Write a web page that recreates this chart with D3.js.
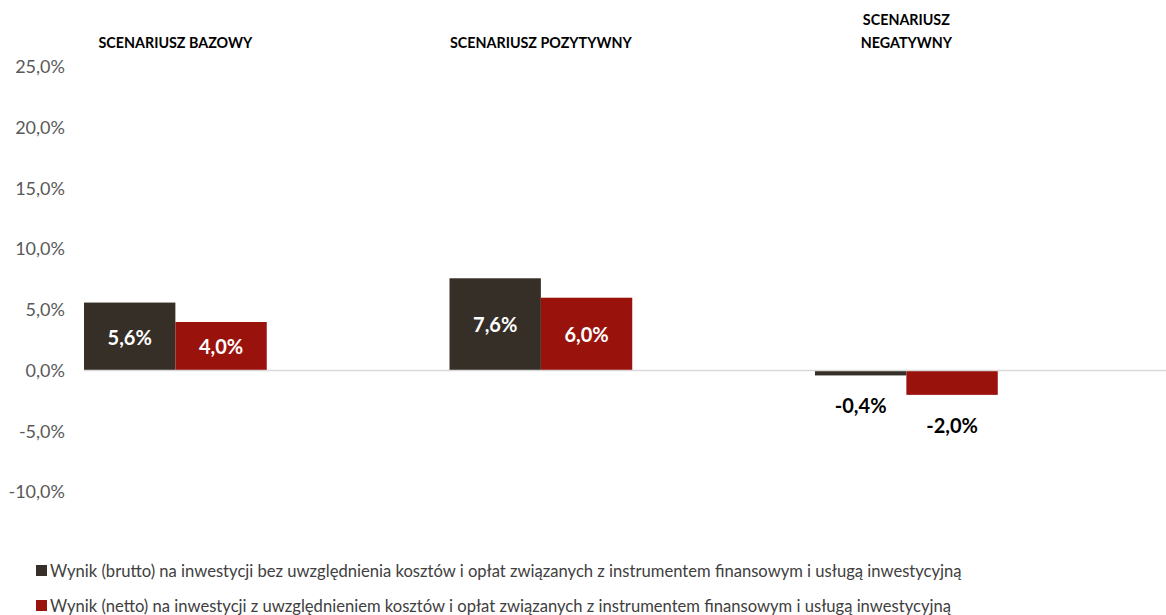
<!DOCTYPE html>
<html>
<head>
<meta charset="utf-8">
<script src="https://cdn.jsdelivr.net/npm/d3@7"></script>
<style>
  body { margin: 0; background: #fff; }
  svg { display: block; font-family: Lato, "Open Sans", sans-serif; }
</style>
</head>
<body>
<svg class="chart" width="1166" height="615"></svg>
<script>
const scenarios = ['SCENARIUSZ BAZOWY', 'SCENARIUSZ POZYTYWNY', 'SCENARIUSZ NEGATYWNY'];
const scenarioLines = [['SCENARIUSZ BAZOWY'], ['SCENARIUSZ POZYTYWNY'], ['SCENARIUSZ', 'NEGATYWNY']];
const seriesNames = [
  'Wynik (brutto) na inwestycji bez uwzględnienia kosztów i opłat związanych z instrumentem finansowym i usługą inwestycyjną',
  'Wynik (netto) na inwestycji z uwzględnieniem kosztów i opłat związanych z instrumentem finansowym i usługą inwestycyjną',
];
const bruttoValues = [5.6, 7.6, -0.4];
const nettoValues = [4.0, 6.0, -2.0];
const yTicks = [-10, -5, 0, 5, 10, 15, 20, 25];

const startApp = () => {
  const colors = ['#352f28', '#9a120c'];
  const svg = d3.select('.chart');

  const xScale = d3.scaleBand().domain(scenarios).range([84, 1180.5]).padding(0);
  const seriesScale = d3.scaleBand().domain([0, 1]).range([0, xScale.bandwidth() / 2]);
  const yScale = d3.scaleLinear().domain([-10, 25]).range([492, 67]);
  // excel style: comma decimal, plain hyphen for minus
  const fmt = v => v.toFixed(1).replace('.', ',') + '%';

  // y axis labels
  const yAxis = d3.axisLeft(yScale).tickValues(yTicks).tickSize(0).tickPadding(0)
    .tickFormat(fmt);
  const yAxisG = svg.append('g').attr('transform', 'translate(65,0)').call(yAxis);
  yAxisG.select('.domain').remove();
  yAxisG.selectAll('text')
    .attr('fill', '#595959')
    .style('font-size', '18px')
    .style('font-family', 'Lato, sans-serif');

  const rows = scenarios.map((s, i) => ({ scenario: s, values: [bruttoValues[i], nettoValues[i]] }));

  const groups = svg.selectAll('.group')
    .data(rows)
    .enter()
    .append('g')
    .attr('transform', d => `translate(${xScale(d.scenario)},0)`);

  groups.selectAll('rect')
    .data(d => d.values.map((v, k) => ({ v, k })))
    .enter()
    .append('rect')
    .attr('x', d => seriesScale(d.k))
    .attr('width', seriesScale.bandwidth())
    .attr('y', d => yScale(Math.max(0, d.v)))
    .attr('height', d => Math.abs(yScale(d.v) - yScale(0)))
    .attr('fill', d => colors[d.k]);

  // zero line
  svg.append('line')
    .attr('x1', 84).attr('x2', 1166)
    .attr('y1', yScale(0)).attr('y2', yScale(0))
    .attr('stroke', '#d9d9d9').attr('stroke-width', 1.5);

  // value labels
  groups.selectAll('.val')
    .data(d => d.values.map((v, k) => ({ v, k })))
    .enter()
    .append('text')
    .attr('x', d => seriesScale(d.k) + seriesScale.bandwidth() / 2)
    .attr('y', d => d.v >= 0 ? (yScale(d.v) + yScale(0)) / 2 : yScale(d.v) + 30)
    .attr('text-anchor', 'middle')
    .attr('dominant-baseline', 'central')
    .attr('fill', d => d.v >= 0 ? '#fff' : '#000')
    .style('font-size', '20px')
    .style('font-weight', 'bold')
    .text(d => fmt(d.v));

  // headers
  groups.each(function (d, i) {
    const lines = scenarioLines[i];
    const t = d3.select(this).append('text')
      .attr('x', seriesScale.bandwidth())
      .attr('text-anchor', 'middle')
      .style('font-size', '14.3px')
      .style('font-weight', 'bold')
      .attr('fill', '#000');
    lines.forEach((line, j) => {
      t.append('tspan')
        .attr('x', seriesScale.bandwidth())
        .attr('y', 48 - (lines.length - 1 - j) * 23)
        .text(line);
    });
  });

  // legend
  const legend = svg.selectAll('.legend')
    .data(seriesNames)
    .enter()
    .append('g')
    .attr('transform', (d, i) => `translate(36,${571 + i * 35})`);
  legend.append('rect')
    .attr('x', 0).attr('y', -6)
    .attr('width', 11).attr('height', 11)
    .attr('fill', (d, i) => colors[i]);
  legend.append('text')
    .attr('x', 14)
    .attr('dominant-baseline', 'central')
    .attr('fill', '#404040')
    .style('font-size', '16.6px')
    .text(d => d);
};

window.onload = startApp;
</script>
</body>
</html>
